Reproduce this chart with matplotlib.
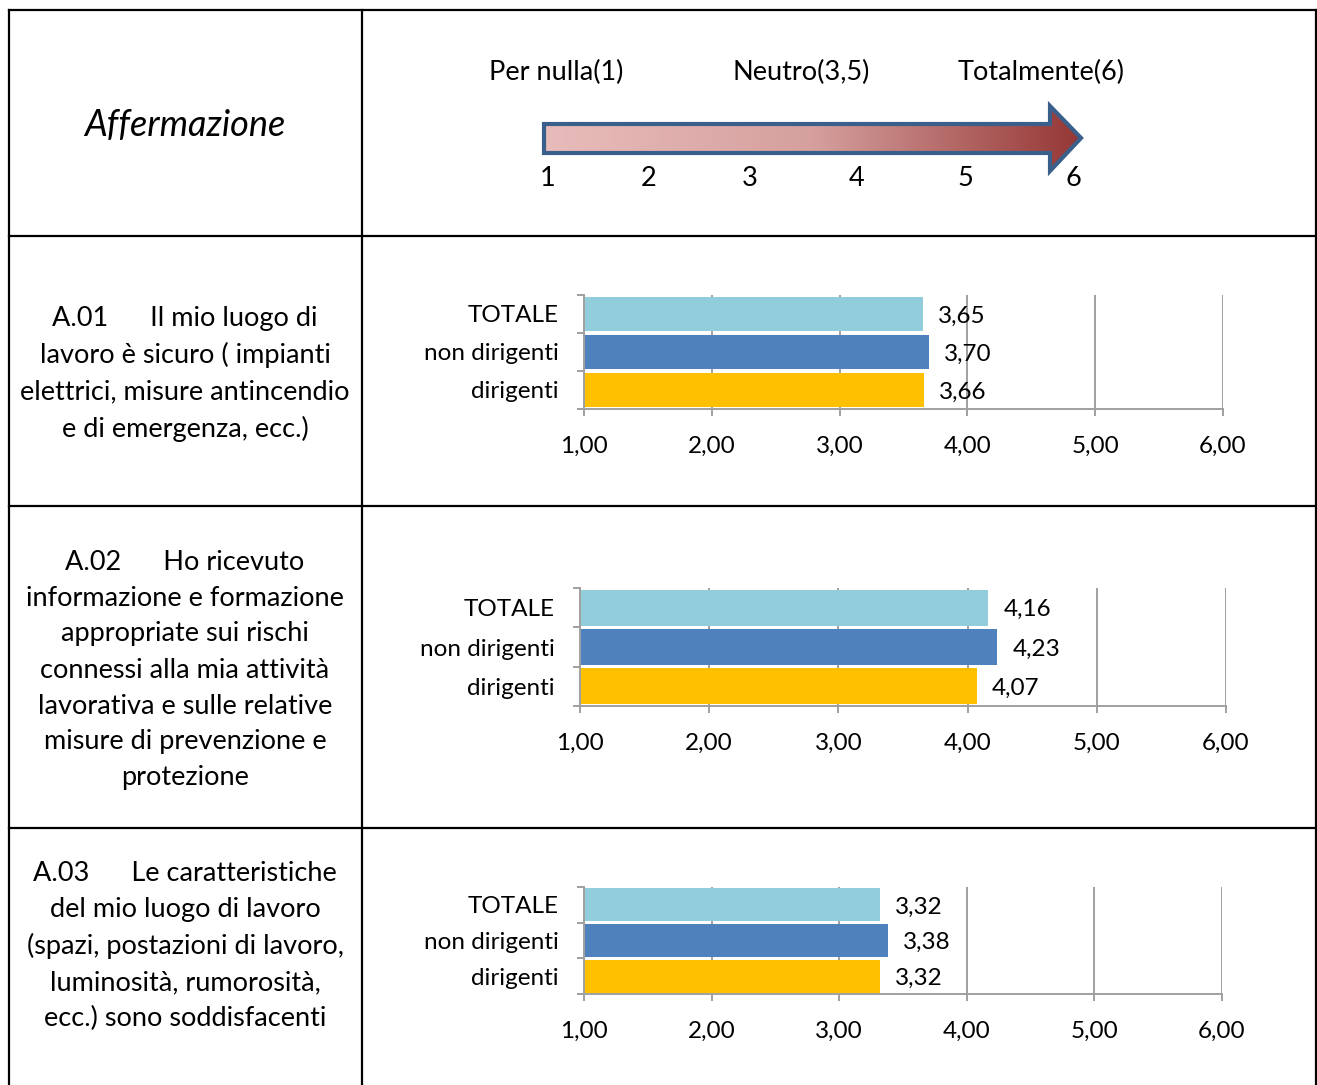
#!/usr/bin/env python3
"""
Survey table: statement text on the left, horizontal bar chart per statement on the right.
"""

import numpy as np
import matplotlib
matplotlib.use('Agg')
import matplotlib.pyplot as plt
from matplotlib.patches import Polygon
from matplotlib.colors import LinearSegmentedColormap

plt.rcParams['font.family'] = ['Lato', 'DejaVu Sans']

categories = ['TOTALE', 'non dirigenti', 'dirigenti']
bar_colors = ['#92cddc', '#4f81bd', '#ffc000']
a01 = [3.65, 3.70, 3.66]
a02 = [4.16, 4.23, 4.07]
a03 = [3.32, 3.38, 3.32]
x_ticks = [1, 2, 3, 4, 5, 6]
x_ticklabels = ['1,00', '2,00', '3,00', '4,00', '5,00', '6,00']
scale_numbers = ['1', '2', '3', '4', '5', '6']
scale_titles = ['Per nulla(1)', 'Neutro(3,5)', 'Totalmente(6)']

statements = [
    'A.01      Il mio luogo di\nlavoro è sicuro ( impianti\nelettrici, misure antincendio\ne di emergenza, ecc.)',
    'A.02      Ho ricevuto\ninformazione e formazione\nappropriate sui rischi\nconnessi alla mia attività\nlavorativa e sulle relative\nmisure di prevenzione e\nprotezione',
    'A.03      Le caratteristiche\ndel mio luogo di lavoro\n(spazi, postazioni di lavoro,\nluminosità, rumorosità,\necc.) sono soddisfacenti',
]

W, H = 1317, 1085
fig = plt.figure(figsize=(W / 100, H / 100), dpi=100)

# background layer in pixel coordinates
bg = fig.add_axes([0, 0, 1, 1])
bg.set_xlim(0, W)
bg.set_ylim(H, 0)
bg.axis('off')

lw = 1.6
for y in [10, 236, 506, 828]:
    bg.plot([9, 1316], [y, y], color='black', lw=lw)
for x in [9, 362, 1316]:
    bg.plot([x, x], [10, H], color='black', lw=lw)

bg.text(185, 125, 'Affermazione', fontsize=26, style='italic', ha='center', va='center')

# gradient arrow
pts = [(544, 124), (1050, 124), (1050, 106), (1081, 138), (1050, 171), (1050, 153), (544, 153)]
arrow = Polygon(pts, closed=True, facecolor='none', edgecolor='#3a5f8b', lw=3, zorder=3)
bg.add_patch(arrow)
cmap = LinearSegmentedColormap.from_list('arr', ['#e8bcbb', '#d5a09e', '#953735'])
grad = np.linspace(0, 1, 256).reshape(1, -1)
im = bg.imshow(grad, cmap=cmap, extent=[544, 1081, 171, 106], aspect='auto', zorder=2)
im.set_clip_path(arrow)
bg.set_xlim(0, W)
bg.set_ylim(H, 0)

for x, s in zip([556, 801, 1041], scale_titles):
    bg.text(x, 72, s, fontsize=19.5, ha='center', va='center')
for x, s in zip([548, 649, 750, 857, 965, 1073], scale_numbers):
    bg.text(x, 179, s, fontsize=19.5, ha='center', va='center')

for cy, s in zip([374, 670, 946], statements):
    bg.text(185, cy, s, fontsize=19.5, ha='center', va='center', linespacing=1.55)

panels = [
    (a01, (584, 1223, 295, 409)),
    (a02, (580, 1226, 588, 706)),
    (a03, (584, 1222, 887, 994)),
]

fs = 17.5
for vals, (x0, x1, y0, y1) in panels:
    ax = fig.add_axes([x0 / W, 1 - y1 / H, (x1 - x0) / W, (y1 - y0) / H])
    ypos = np.arange(len(categories))[::-1]
    ax.barh(ypos, vals, height=0.92, color=bar_colors, zorder=2)
    for yp, v in zip(ypos, vals):
        ax.annotate(f'{v:.2f}'.replace('.', ','), (v, yp), xytext=(11, -1.5),
                    textcoords='offset points', va='center', ha='left', fontsize=fs, zorder=4)
    ax.set_xlim(1, 6)
    ax.set_ylim(-0.5, 2.5)
    ax.set_xticks(x_ticks)
    ax.set_xticklabels(x_ticklabels, fontsize=fs)
    ax.set_yticks([-0.5, 0.5, 1.5, 2.5])
    ax.set_yticklabels([])
    ax.set_yticks(ypos, minor=True)
    ax.set_yticklabels(categories, minor=True, fontsize=fs)
    ax.tick_params(axis='y', which='minor', length=0, pad=18)
    ax.tick_params(axis='y', which='major', length=5, color='#a0a0a0', width=1.4)
    ax.tick_params(axis='x', length=5, color='#a0a0a0', width=1.4, pad=14)
    ax.grid(axis='x', color='#a0a0a0', lw=1.4, zorder=1)
    ax.set_axisbelow(True)
    for sp in ['top', 'right']:
        ax.spines[sp].set_visible(False)
    for sp in ['left', 'bottom']:
        ax.spines[sp].set_color('#a0a0a0')
        ax.spines[sp].set_linewidth(1.4)
    ax.patch.set_alpha(0)

plt.savefig('out.png', dpi=100)
